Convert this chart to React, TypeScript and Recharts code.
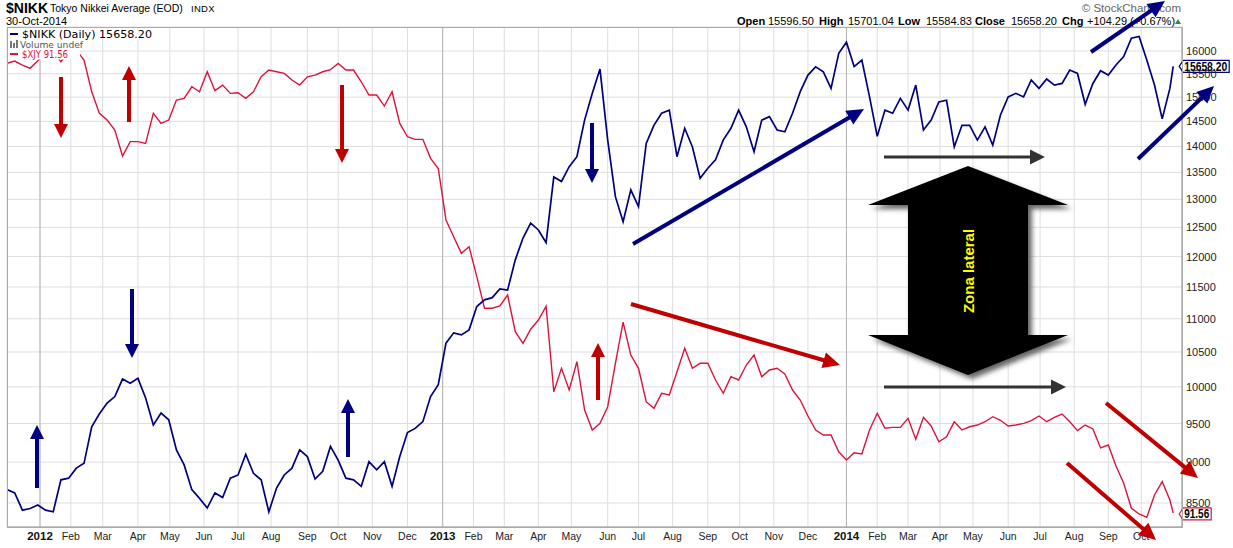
import React from 'react';
import { LineChart, Line, XAxis, YAxis, CartesianGrid, ReferenceLine, ReferenceDot } from 'recharts';

// weekly closes, first one on START_DATE, then every STEP_DAYS
const START_DATE = '2011-12-05';
const STEP_DAYS = 7;
const LAST_DATE = '2014-10-30';
const X_END_DATE = '2014-11-07';

const nikkWeekly = [
  8660, 8620, 8415, 8435, 8475, 8415, 8395, 8780, 8800, 8925,
  8985, 9455, 9630, 9775, 9865, 10110, 10050, 10120, 9845, 9480,
  9640, 9550, 9155, 8965, 8660, 8555, 8440, 8620, 8565, 8800,
  8840, 9100, 8860, 8780, 8395, 8680, 8840, 8925, 9155, 9070,
  8790, 8885, 9200, 9025, 8800, 8780, 8700, 9005, 8905, 9005,
  8700, 9070, 9380, 9435, 9525, 9865, 10030, 10630, 10785, 10755,
  10830, 11190, 11295, 11330, 11470, 11450, 11945, 12315, 12575, 12455,
  12235, 13415, 13330, 13610, 13800, 14525, 15080, 15600, 14125, 13050,
  12600, 13175, 12870, 14060, 14420, 14665, 14730, 13800, 14360, 13990,
  13390, 13580, 13740, 14125, 14360, 14730, 14390, 13895, 14525, 14595,
  14325, 14290, 14665, 15115, 15470, 15650, 15540, 15185, 15950, 16200,
  15655, 15800, 15005, 14200, 14730, 14665, 14975, 14730, 15255, 14325,
  14525, 14900, 14935, 13990, 14420, 14420, 14125, 14390, 14025, 14630,
  15005, 15080, 15005, 15365, 15185, 15385, 15255, 15290, 15580, 15505,
  14850, 15290, 15565, 15470, 15690, 15875, 16290, 16330, 15800, 15255,
  14550, 15185,
];

const xjyWeekly = [
  128.42, 128.61, 128.28, 128.01, 128.63, 129.35, 129.5, 128.55, 129.4, 129.5,
  128.69, 126.09, 124.32, 123.77, 122.95, 120.82, 122.0, 122.0, 121.86, 124.32,
  123.5, 123.77, 125.41, 125.55, 126.5, 126.09, 127.73, 126.18, 126.64, 125.96,
  126.01, 125.55, 126.09, 127.32, 127.87, 127.73, 127.6, 127.05, 126.64, 127.32,
  127.46, 127.73, 127.9, 128.42, 127.87, 127.87, 126.91, 125.82, 125.82, 124.92,
  126.09, 123.5, 122.4, 122.19, 122.19, 120.63, 119.8, 115.58, 114.21, 112.85,
  113.39, 110.93, 108.34, 108.34, 108.53, 109.43, 106.42, 105.47, 106.62, 107.38,
  108.5, 101.5, 103.42, 101.64, 103.96, 100.0, 98.36, 98.91, 100.27, 103.83,
  107.2, 104.51, 103.42, 100.68, 100.14, 101.37, 101.23, 103.14, 105.06, 103.42,
  103.83, 103.83, 102.46, 101.37, 102.73, 102.46, 103.69, 104.51, 102.73, 103.28,
  103.42, 102.95, 101.64, 100.82, 99.51, 98.36, 97.95, 97.95, 96.58, 95.9,
  96.5, 96.4, 98.36, 99.73, 98.5, 98.58, 98.58, 99.32, 97.6, 99.4,
  98.69, 97.4, 97.81, 99.04, 98.36, 98.63, 98.77, 99.04, 99.45, 99.16,
  98.69, 98.77, 98.91, 99.13, 99.51, 99.04, 99.4, 99.67, 99.04, 98.31,
  98.77, 98.45, 96.89, 97.13, 95.41, 93.99, 91.95, 91.48, 91.2, 93.04,
  94.13, 92.63,
];

const NIKK_LAST = 15658.2;
const XJY_LAST = 91.56;

// first trading day of each month
const monthStarts = [
  '2012-01-04', '2012-02-01', '2012-03-01', '2012-04-02', '2012-05-01', '2012-06-01',
  '2012-07-02', '2012-08-01', '2012-09-03', '2012-10-01', '2012-11-01', '2012-12-03',
  '2013-01-04', '2013-02-01', '2013-03-01', '2013-04-01', '2013-05-01', '2013-06-03',
  '2013-07-01', '2013-08-01', '2013-09-02', '2013-10-01', '2013-11-01', '2013-12-02',
  '2014-01-06', '2014-02-03', '2014-03-03', '2014-04-01', '2014-05-01', '2014-06-02',
  '2014-07-01', '2014-08-01', '2014-09-01', '2014-10-01',
];
const yearStarts = ['2012-01-04', '2013-01-04', '2014-01-06'];
const monthNames = ['Jan', 'Feb', 'Mar', 'Apr', 'May', 'Jun', 'Jul', 'Aug', 'Sep', 'Oct', 'Nov', 'Dec'];
const nikkTicks = [8500, 9000, 9500, 10000, 10500, 11000, 11500, 12000, 12500, 13000, 13500, 14000, 14500, 15000, 15500, 16000];

const NIKK_DOMAIN = [8219, 16547];
const XJY_DOMAIN = [90.41, 131.4];

const BLUE = '#000080';
const CRIMSON = '#dc143c';
const RED_ARROW = '#c00000';
const GRAY_ARROW = '#333333';
const FONT = '"Liberation Sans", Arial, sans-serif';

const DAY0 = Date.parse('2012-01-04');
const dayOf = (s: string) => Math.round((Date.parse(s) - DAY0) / 86400000);

const rows = nikkWeekly.map((v, i) => ({
  t: dayOf(START_DATE) + i * STEP_DAYS,
  nikk: v,
  xjy: xjyWeekly[i],
}));
rows.push({ t: dayOf(LAST_DATE), nikk: NIKK_LAST, xjy: XJY_LAST });

const monthTicks = monthStarts.map(dayOf);

// hand-drawn annotation arrows (screen positions)
const arrows = [
  { from: [61, 77], to: [61, 138], color: RED_ARROW, w: 4, head: 14, half: 7 },
  { from: [129, 122], to: [129, 66], color: RED_ARROW, w: 4, head: 14, half: 7 },
  { from: [342, 85], to: [342, 163], color: RED_ARROW, w: 4, head: 14, half: 7 },
  { from: [598, 400], to: [598, 343], color: RED_ARROW, w: 4, head: 14, half: 7 },
  { from: [631, 304], to: [840, 365], color: RED_ARROW, w: 4, head: 17, half: 8 },
  { from: [1106, 403], to: [1198, 478], color: RED_ARROW, w: 4, head: 17, half: 8 },
  { from: [1067, 463], to: [1156, 540], color: RED_ARROW, w: 4, head: 17, half: 8 },
  { from: [37, 488], to: [37, 425], color: BLUE, w: 4, head: 14, half: 7 },
  { from: [132, 289], to: [132, 358], color: BLUE, w: 4, head: 14, half: 7 },
  { from: [348, 457], to: [348, 399], color: BLUE, w: 4, head: 14, half: 7 },
  { from: [592, 123], to: [592, 183], color: BLUE, w: 4, head: 14, half: 7 },
  { from: [633, 244], to: [864, 109], color: BLUE, w: 4, head: 17, half: 8 },
  { from: [1091, 52], to: [1165, 1], color: BLUE, w: 4, head: 17, half: 8 },
  { from: [1138, 159], to: [1214, 86], color: BLUE, w: 4, head: 17, half: 8 },
  { from: [884, 157], to: [1045, 157], color: GRAY_ARROW, w: 3, head: 15, half: 7.5 },
  { from: [884, 387], to: [1066, 387], color: GRAY_ARROW, w: 3, head: 15, half: 7.5 },
];

const bigArrow = '968,166 1068,205 1028,205 1028,335 1068,335 968,375 868,335 908,335 908,205 868,205';

const Arrow = ({ from, to, color, w, head, half }: any) => {
  const [x1, y1] = from;
  const [x2, y2] = to;
  const len = Math.hypot(x2 - x1, y2 - y1);
  const ux = (x2 - x1) / len;
  const uy = (y2 - y1) / len;
  const bx = x2 - ux * head;
  const by = y2 - uy * head;
  const nx = -uy * half;
  const ny = ux * half;
  return (
    <g>
      <line x1={x1} y1={y1} x2={bx + ux} y2={by + uy} stroke={color} strokeWidth={w} />
      <polygon points={`${x2},${y2} ${bx + nx},${by + ny} ${bx - nx},${by - ny}`} fill={color} />
    </g>
  );
};

const MonthTick = ({ x, y, payload }: any) => {
  const d = new Date(DAY0 + payload.value * 86400000);
  const m = d.getUTCMonth();
  if (m === 0) {
    return (
      <text x={x} y={y + 13} textAnchor="middle" fontFamily={FONT} fontSize={11.5} fontWeight="bold" fill="#111">
        {d.getUTCFullYear()}
      </text>
    );
  }
  return (
    <text x={x} y={y + 13} textAnchor="middle" fontFamily={FONT} fontSize={10.5} fill="#222">
      {monthNames[m]}
    </text>
  );
};

const PriceTick = ({ x, y, payload }: any) => (
  <text x={x} y={y + 4} textAnchor="start" fontFamily={FONT} fontSize={11} fill="#222">
    {payload.value}
  </text>
);

const ValueBox = ({ cx, cy, label, color }: any) => {
  const tip = cx + 6;
  const right = tip + (label.length > 6 ? 50 : 32);
  return (
    <g>
      <polygon
        points={`${tip},${cy} ${tip + 4},${cy - 6} ${right},${cy - 6} ${right},${cy + 6} ${tip + 4},${cy + 6}`}
        fill="#fff"
        stroke={color}
        strokeWidth={1.2}
      />
      <text
        x={tip + 5}
        y={cy + 4.5}
        fontFamily={FONT}
        fontSize={12}
        fontWeight="bold"
        fill="#000"
        textLength={right - tip - 7}
        lengthAdjust="spacingAndGlyphs"
      >
        {label}
      </text>
    </g>
  );
};

const App = () => {
  const lastT = dayOf(LAST_DATE);
  return (
    <div style={{ position: 'relative', width: 1233, height: 548, background: '#fff', overflow: 'hidden' }}>
      <style>{'body{margin:0}'}</style>
      <LineChart width={1233} height={548} data={rows} margin={{ top: 27, right: 0, bottom: 0, left: 7 }}>
        <CartesianGrid stroke="#dedede" yAxisId="nikk" />
        <XAxis
          dataKey="t"
          type="number"
          domain={[dayOf(START_DATE), dayOf(X_END_DATE)]}
          allowDataOverflow
          ticks={monthTicks}
          interval={0}
          tick={(p: any) => <MonthTick {...p} />}
          tickLine={false}
          tickSize={0}
          tickMargin={0}
          height={21}
          axisLine={{ stroke: '#999' }}
        />
        <YAxis
          yAxisId="nikk"
          orientation="right"
          scale="log"
          domain={NIKK_DOMAIN}
          allowDataOverflow
          ticks={nikkTicks}
          interval={0}
          tick={(p: any) => <PriceTick {...p} />}
          tickLine={false}
          tickSize={0}
          tickMargin={4}
          width={51}
          axisLine={{ stroke: '#999' }}
        />
        <YAxis yAxisId="xjy" hide domain={XJY_DOMAIN} allowDataOverflow />
        {yearStarts.map((s) => (
          <ReferenceLine key={s} yAxisId="nikk" x={dayOf(s)} stroke="#b4b4b4" />
        ))}
        <Line yAxisId="xjy" dataKey="xjy" stroke={CRIMSON} strokeWidth={1.4} dot={false} isAnimationActive={false} />
        <Line yAxisId="nikk" dataKey="nikk" stroke={BLUE} strokeWidth={1.7} dot={false} isAnimationActive={false} />
        <ReferenceDot
          yAxisId="nikk"
          x={lastT}
          y={NIKK_LAST}
          ifOverflow="visible"
          shape={(p: any) => <ValueBox cx={p.cx} cy={p.cy} label="15658.20" color={BLUE} />}
        />
        <ReferenceDot
          yAxisId="xjy"
          x={lastT}
          y={XJY_LAST}
          ifOverflow="visible"
          shape={(p: any) => <ValueBox cx={p.cx} cy={p.cy + 1} label="91.56" color={CRIMSON} />}
        />
      </LineChart>

      <svg width={1233} height={548} style={{ position: 'absolute', left: 0, top: 0, pointerEvents: 'none' }}>
        <defs>
          <filter id="soft" x="-20%" y="-20%" width="140%" height="140%">
            <feGaussianBlur stdDeviation="2.5" />
          </filter>
        </defs>

        <rect x={7.5} y={27.5} width={1175} height={500} fill="none" stroke="#aaa" />

        {/* header */}
        <text x={6} y={13} fontFamily={FONT} fontSize={14} fontWeight="bold" fill="#000">$NIKK</text>
        <text x={50} y={12} fontFamily={FONT} fontSize={10.5} fill="#000">Tokyo Nikkei Average (EOD)</text>
        <text x={191} y={12} fontFamily={FONT} fontSize={9.5} fill="#000" letterSpacing={0.3}>INDX</text>
        <text x={6} y={25} fontFamily={FONT} fontSize={11} fill="#000">30-Oct-2014</text>
        <text x={1181} y={12} textAnchor="end" fontFamily={FONT} fontSize={11.5} fill="#666">© StockCharts.com</text>
        <g fontFamily={FONT} fontSize={11} fill="#000">
          <text x={737} y={25} fontWeight="bold">Open</text>
          <text x={768} y={25}>15596.50</text>
          <text x={819} y={25} fontWeight="bold">High</text>
          <text x={848} y={25}>15701.04</text>
          <text x={898} y={25} fontWeight="bold">Low</text>
          <text x={926} y={25}>15584.83</text>
          <text x={975} y={25} fontWeight="bold">Close</text>
          <text x={1011} y={25}>15658.20</text>
          <text x={1062} y={25} fontWeight="bold">Chg</text>
          <text x={1087} y={25}>+104.29 (+0.67%)</text>
        </g>
        <polygon points="1175,24 1178,19 1181,24" fill="#2e8b3e" />

        {/* legend */}
        <rect x={8} y={28} width={148} height={10.5} fill="#fff" />
        <rect x={8} y={38.5} width={78} height={10.5} fill="#fff" />
        <rect x={8} y={49} width={72} height={10.5} fill="#fff" />
        <line x1={10} y1={34} x2={18} y2={34} stroke={BLUE} strokeWidth={2} />
        <text x={22} y={37.5} fontFamily="DejaVu Sans" fontSize={10} fill="#000" textLength={130} lengthAdjust="spacingAndGlyphs">
          $NIKK (Daily) 15658.20
        </text>
        <rect x={10} y={41} width={2} height={7} fill="#777" />
        <rect x={13} y={43} width={2} height={5} fill="#777" />
        <rect x={16} y={40} width={2} height={8} fill="#777" />
        <text x={20} y={48} fontFamily="DejaVu Sans" fontSize={9.5} fill="#555" textLength={63} lengthAdjust="spacingAndGlyphs">
          Volume undef
        </text>
        <line x1={10} y1={54} x2={18} y2={54} stroke={CRIMSON} strokeWidth={2} />
        <text x={22} y={58} fontFamily="DejaVu Sans" fontSize={10} fill={CRIMSON} textLength={46} lengthAdjust="spacingAndGlyphs">
          $XJY 91.56
        </text>

        {/* annotations */}
        {arrows.map((a, i) => (
          <Arrow key={i} {...a} />
        ))}
        <polygon points={bigArrow} fill="#666" filter="url(#soft)" transform="translate(4,4)" />
        <polygon points={bigArrow} fill="#000" />
        <text
          x={968}
          y={271}
          transform="rotate(-90 968 271)"
          textAnchor="middle"
          dominantBaseline="central"
          fontFamily={FONT}
          fontSize={15}
          fontWeight="bold"
          fill="#ffff00"
        >
          Zona lateral
        </text>
      </svg>
    </div>
  );
};

export default App;
